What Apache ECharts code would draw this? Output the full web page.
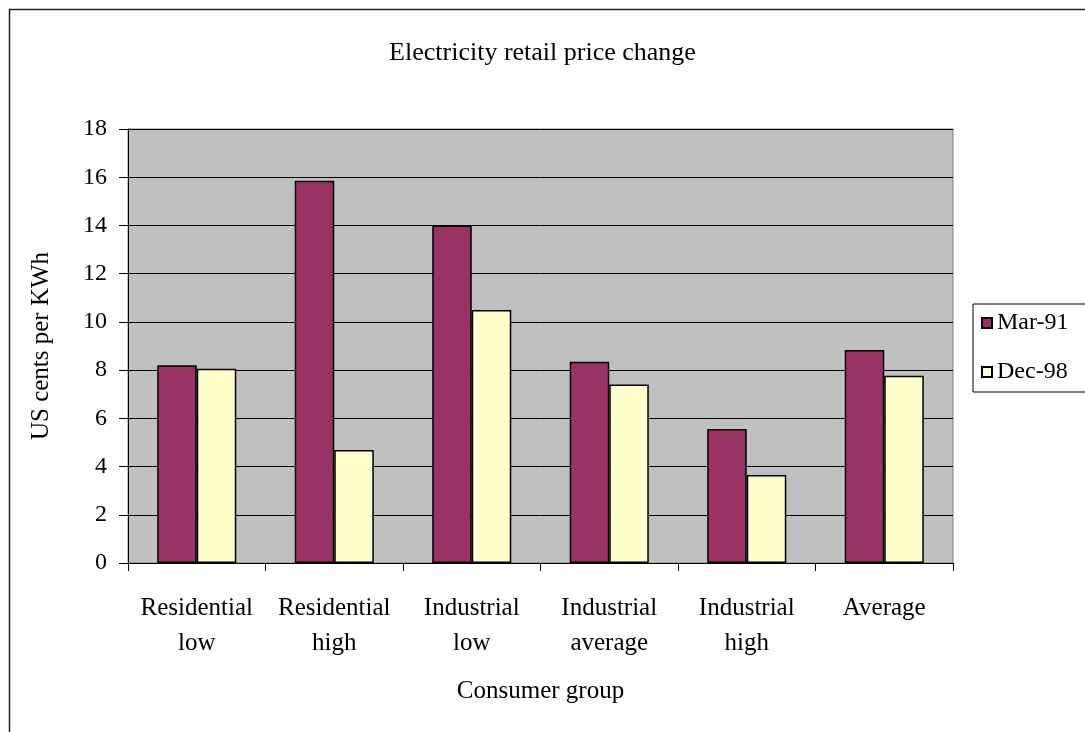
<!DOCTYPE html>
<html>
<head>
<meta charset="utf-8">
<script src="https://cdn.jsdelivr.net/npm/echarts@6/dist/echarts.min.js"></script>
<style>
  html, body { margin: 0; padding: 0; background: #fff; }
  #chart { width: 1085px; height: 732px; }
</style>
</head>
<body>
<div id="chart"></div>
<script>
// consumer groups (two-line labels as in the original)
const categories = [
  "Residential\nlow",
  "Residential\nhigh",
  "Industrial\nlow",
  "Industrial\naverage",
  "Industrial\nhigh",
  "Average",
];
// US cents per KWh
const mar91 = [8.2, 15.85, 14.0, 8.35, 5.56, 8.83];
const dec98 = [8.06, 4.69, 10.49, 7.4, 3.65, 7.77];

const serif = "Liberation Serif";

const chart = echarts.init(document.getElementById("chart"));

const options = {
  backgroundColor: "#fff",
  animation: false,
  title: {
    text: "Electricity retail price change",
    left: "center",
    top: 35,
    textStyle: { fontFamily: serif, fontSize: 26, fontWeight: "normal", color: "#000" },
  },
  graphic: [
    {
      type: "rect",
      shape: { x: 9.5, y: 9.5, width: 1200, height: 1000 },
      style: { fill: "none", stroke: "#222", lineWidth: 1.5 },
      silent: true,
    },
  ],
  legend: {
    orient: "vertical",
    left: 973,
    top: 304,
    padding: [7, 30, 8, 8],
    itemGap: 25,
    itemWidth: 10,
    itemHeight: 10,
    icon: "rect",
    borderColor: "#000",
    borderWidth: 1,
    textStyle: { fontFamily: serif, fontSize: 24, color: "#000" },
    data: ["Mar-91", "Dec-98"],
  },
  grid: {
    left: 128,
    top: 129,
    right: 132,
    bottom: 169,
    show: true,
    backgroundColor: "#C0C0C0",
    borderColor: "#808080",
    borderWidth: 1,
  },
  xAxis: {
    type: "category",
    data: categories,
    name: "Consumer group",
    nameLocation: "middle",
    nameGap: 116,
    nameTextStyle: { fontFamily: serif, fontSize: 25, color: "#000" },
    axisLine: { lineStyle: { color: "#000", width: 1 } },
    axisTick: { show: true, length: 8, lineStyle: { color: "#000" } },
    axisLabel: {
      interval: 0,
      margin: 28,
      fontFamily: serif,
      fontSize: 25,
      lineHeight: 35,
      color: "#000",
    },
    splitLine: { show: false },
  },
  yAxis: {
    type: "value",
    min: 0,
    max: 18,
    interval: 2,
    name: "US cents per KWh",
    nameLocation: "middle",
    nameGap: 74,
    nameTextStyle: { fontFamily: serif, fontSize: 25, color: "#000" },
    axisLine: { show: true, lineStyle: { color: "#000", width: 1 } },
    axisTick: { show: true, length: 9, lineStyle: { color: "#000" } },
    axisLabel: { margin: 21, fontFamily: serif, fontSize: 24, color: "#000" },
    splitLine: { show: true, lineStyle: { color: "#000", width: 1 } },
  },
  series: [
    {
      name: "Mar-91",
      type: "bar",
      data: mar91,
      barGap: "0%",
      barCategoryGap: "42.5%",
      itemStyle: { color: "#993366", borderColor: "#000", borderWidth: 1.5 },
    },
    {
      name: "Dec-98",
      type: "bar",
      data: dec98,
      itemStyle: { color: "#FFFFCC", borderColor: "#000", borderWidth: 1.5 },
    },
  ],
};

chart.setOption(options);
window.addEventListener("resize", () => {
  chart.resize();
});
</script>
</body>
</html>
